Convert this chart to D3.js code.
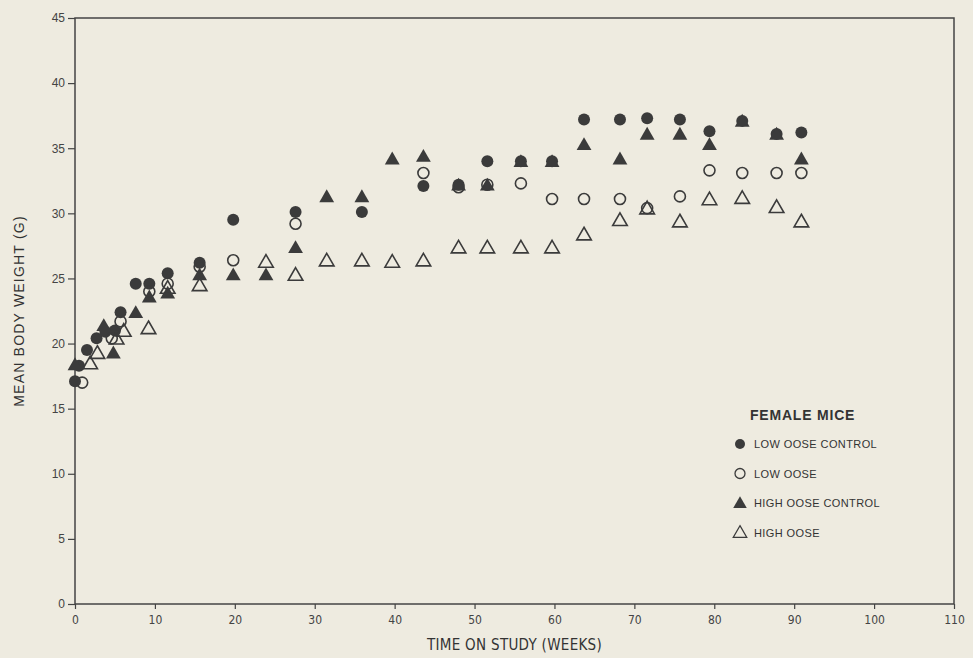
<!DOCTYPE html>
<html>
<head>
<meta charset="utf-8">
<script src="https://cdn.jsdelivr.net/npm/d3@7"></script>
<style>
  body { margin: 0; background: #eeebe0; }
  svg { display: block; }
</style>
</head>
<body>
<svg></svg>
<script>
// weeks / mean body weight (g)
var lowDoseControl = [
  [0, 17.1], [0.5, 18.3], [1.5, 19.5], [2.7, 20.4], [3.8, 20.9], [5, 21.0], [5.7, 22.4],
  [7.6, 24.6], [9.3, 24.6], [11.6, 25.4], [15.6, 26.2], [19.8, 29.5], [27.6, 30.1],
  [35.9, 30.1], [43.6, 32.1], [48, 32.2], [51.6, 34.0], [55.8, 34.0], [59.7, 34.0],
  [63.7, 37.2], [68.2, 37.2], [71.6, 37.3], [75.7, 37.2], [79.4, 36.3], [83.5, 37.1],
  [87.8, 36.1], [90.9, 36.2]
];
var lowDose = [
  [0.9, 17.0], [4.6, 20.4], [5.7, 21.7], [9.3, 24.0], [11.6, 24.6], [15.6, 25.9],
  [19.8, 26.4], [27.6, 29.2], [43.6, 33.1], [48, 32.0], [51.6, 32.2], [55.8, 32.3],
  [59.7, 31.1], [63.7, 31.1], [68.2, 31.1], [71.6, 30.4], [75.7, 31.3], [79.4, 33.3],
  [83.5, 33.1], [87.8, 33.1], [90.9, 33.1]
];
var highDoseControl = [
  [0, 18.4], [3.6, 21.4], [4.8, 19.3], [7.6, 22.4], [9.3, 23.6], [11.6, 23.9],
  [15.6, 25.3], [19.8, 25.3], [23.9, 25.3], [27.6, 27.4], [31.5, 31.3], [35.9, 31.3],
  [39.7, 34.2], [43.6, 34.4], [48, 32.2], [51.6, 32.2], [55.8, 34.0], [59.7, 34.0],
  [63.7, 35.3], [68.2, 34.2], [71.6, 36.1], [75.7, 36.1], [79.4, 35.3], [83.5, 37.1],
  [87.8, 36.1], [90.9, 34.2]
];
var highDose = [
  [1.9, 18.5], [2.8, 19.3], [5.2, 20.4], [6.1, 21.0], [9.2, 21.2], [11.6, 24.3],
  [15.6, 24.5], [23.9, 26.3], [27.6, 25.3], [31.5, 26.4], [35.9, 26.4], [39.7, 26.3],
  [43.6, 26.4], [48, 27.4], [51.6, 27.4], [55.8, 27.4], [59.7, 27.4], [63.7, 28.4],
  [68.2, 29.5], [71.6, 30.4], [75.7, 29.4], [79.4, 31.1], [83.5, 31.2], [87.8, 30.5],
  [90.9, 29.4]
];
var xTicks = [0, 10, 20, 30, 40, 50, 60, 70, 80, 90, 100, 110];
var yTicks = [0, 5, 10, 15, 20, 25, 30, 35, 40, 45];
var legendLabels = ["LOW OOSE CONTROL", "LOW OOSE", "HIGH OOSE CONTROL", "HIGH OOSE"];

var ink = "#3b3b3b";
var narrow = "'DejaVu Sans Condensed', 'Liberation Sans Narrow', sans-serif";
var sans = "Helvetica, Arial, 'Liberation Sans', sans-serif";
var margin = {top: 18, right: 19, bottom: 54, left: 75},
    width = 973 - margin.left - margin.right,
    height = 658 - margin.top - margin.bottom;

var svg = d3.select("svg")
    .attr("width", 973)
    .attr("height", 658)
    .style("background", "#eeebe0");

var g = svg.append("g")
    .attr("transform", "translate(" + margin.left + "," + margin.top + ")");

var x = d3.scaleLinear().domain([0, 110]).range([0, width]);
var y = d3.scaleLinear().domain([0, 45]).range([height, 0]);

// frame
g.append("rect")
    .attr("width", width).attr("height", height)
    .attr("fill", "none").attr("stroke", "#444").attr("stroke-width", 1.5);

// axes
var xAxis = g.append("g")
    .attr("transform", "translate(0," + height + ")")
    .call(d3.axisBottom(x).tickValues(xTicks).tickSize(5).tickPadding(6));
xAxis.select(".domain").remove();
xAxis.selectAll("text")
    .attr("font-family", narrow)
    .attr("font-size", 12).attr("fill", "#444");

var yAxis = g.append("g")
    .call(d3.axisLeft(y).tickValues(yTicks).tickSize(7).tickPadding(3));
yAxis.select(".domain").remove();
yAxis.selectAll("text")
    .attr("font-family", sans)
    .attr("font-size", 12).attr("fill", "#444");
g.selectAll(".tick line").attr("stroke", "#444").attr("stroke-width", 1.2);

// axis titles
svg.append("text")
    .attr("x", margin.left + width / 2).attr("y", 650)
    .attr("text-anchor", "middle")
    .attr("font-family", narrow)
    .attr("font-size", 15).attr("letter-spacing", 0.3).attr("fill", "#333")
    .text("TIME ON STUDY (WEEKS)");

svg.append("text")
    .attr("transform", "translate(24," + (margin.top + height / 2) + ") rotate(-90)")
    .attr("text-anchor", "middle")
    .attr("font-family", sans)
    .attr("font-size", 14).attr("letter-spacing", 1.2).attr("fill", "#333")
    .text("MEAN BODY WEIGHT (G)");

// markers
var tri = d3.symbol().type(d3.symbolTriangle);

g.selectAll(".lowctl")
    .data(lowDoseControl)
    .join("circle")
    .attr("cx", function(d) { return x(d[0]); })
    .attr("cy", function(d) { return y(d[1]); })
    .attr("r", 6)
    .attr("fill", ink);

g.selectAll(".highctl")
    .data(highDoseControl)
    .join("path")
    .attr("d", tri.size(95))
    .attr("transform", function(d) { return "translate(" + x(d[0]) + "," + (y(d[1]) + 1.5) + ")"; })
    .attr("fill", ink);

g.selectAll(".low")
    .data(lowDose)
    .join("circle")
    .attr("cx", function(d) { return x(d[0]); })
    .attr("cy", function(d) { return y(d[1]); })
    .attr("r", 5.5)
    .attr("fill", "none").attr("stroke", ink).attr("stroke-width", 1.6);

g.selectAll(".high")
    .data(highDose)
    .join("path")
    .attr("d", tri.size(92))
    .attr("transform", function(d) { return "translate(" + x(d[0]) + "," + (y(d[1]) + 1.5) + ")"; })
    .attr("fill", "none").attr("stroke", ink).attr("stroke-width", 1.6);

// legend
var legend = svg.append("g").attr("transform", "translate(740,420)");
legend.append("text")
    .attr("x", 10).attr("y", 0)
    .attr("font-family", sans)
    .attr("font-size", 14).attr("font-weight", "bold").attr("letter-spacing", 0.8)
    .attr("fill", "#333")
    .text("FEMALE MICE");

var items = legend.selectAll(".item")
    .data(legendLabels)
    .join("g")
    .attr("transform", function(d, i) { return "translate(0," + (24 + i * 29.5) + ")"; });

items.append("text")
    .attr("x", 14).attr("y", 4)
    .attr("font-family", sans)
    .attr("font-size", 11).attr("letter-spacing", 0.4).attr("fill", "#333")
    .text(function(d) { return d; });

items.each(function(d, i) {
    var s = d3.select(this);
    if (i === 0) s.append("circle").attr("r", 5).attr("fill", ink);
    if (i === 1) s.append("circle").attr("r", 5).attr("fill", "none").attr("stroke", ink).attr("stroke-width", 1.3);
    if (i === 2) s.append("path").attr("d", tri.size(80)).attr("transform", "translate(0,1)").attr("fill", ink);
    if (i === 3) s.append("path").attr("d", tri.size(80)).attr("transform", "translate(0,1)").attr("fill", "none").attr("stroke", ink).attr("stroke-width", 1.2);
});
</script>
</body>
</html>
